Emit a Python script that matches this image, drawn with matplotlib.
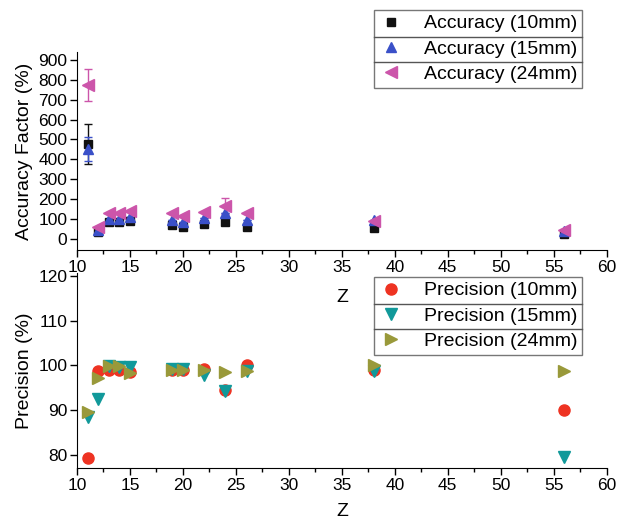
import numpy as np
import matplotlib.pyplot as plt
from matplotlib.lines import Line2D

plt.rcParams['font.family'] = ['Liberation Sans', 'DejaVu Sans']

z = [11, 12, 13, 14, 15, 19, 20, 22, 24, 26, 38, 56]

acc_10 = [475, 35, 86, 86, 92, 70, 62, 75, 85, 62, 55, 25]
acc_15 = [452, 45, 100, 100, 110, 95, 85, 105, 130, 95, 95, 40]
acc_24 = [775, 60, 130, 130, 140, 130, 115, 135, 165, 130, 90, 45]
acc_10_err = [100, 0, 0, 0, 0, 0, 0, 0, 0, 0, 0, 0]
acc_15_err = [60, 0, 0, 0, 0, 0, 0, 0, 0, 0, 0, 0]
acc_24_err = [80, 0, 0, 0, 0, 0, 0, 0, 40, 0, 0, 0]

prec_10 = [79.3, 98.8, 99.0, 99.0, 98.6, 99.0, 99.0, 99.3, 94.5, 100.0, 99.0, 90.0]
prec_15 = [88.5, 92.4, 99.9, 99.7, 99.7, 99.3, 99.3, 97.8, 94.3, 98.8, 98.8, 79.6]
prec_24 = [89.7, 97.1, 99.9, 99.9, 98.2, 99.0, 99.0, 99.0, 98.5, 98.8, 100.0, 98.8]

c_black = "#111111"
c_blue = "#3a50c8"
c_mag = "#cc55aa"
c_red = "#ee3322"
c_teal = "#11999a"
c_olive = "#99993a"

fig = plt.figure(figsize=(6.21, 5.23), dpi=100)
ax1 = fig.add_axes([0.124, 0.522, 0.853, 0.379])
ax2 = fig.add_axes([0.124, 0.105, 0.853, 0.373])


def style(ax, zpad):
    ax.spines["top"].set_visible(False)
    ax.spines["right"].set_visible(False)
    ax.set_xlim(10, 60)
    ax.set_xticks(range(10, 61, 5))
    ax.set_xticks(np.arange(12.5, 60, 5), minor=True)
    ax.tick_params(which="major", direction="out", length=5, width=1, labelsize=12.5, pad=2)
    ax.tick_params(which="minor", direction="out", length=3, width=1)
    ax.set_xlabel("Z", fontsize=14, labelpad=zpad)
    ax.patch.set_alpha(0)


style(ax1, 10)
style(ax2, 7)

ms = 7
ax1.errorbar(z, acc_10, yerr=acc_10_err, fmt="s", color=c_black, ms=ms - 1,
             capsize=3, elinewidth=1, label="Accuracy (10mm)")
ax1.errorbar(z, acc_15, yerr=acc_15_err, fmt="^", color=c_blue, ms=ms,
             capsize=3, elinewidth=1, label="Accuracy (15mm)")
ax1.errorbar(z, acc_24, yerr=acc_24_err, fmt="<", color=c_mag, ms=ms + 1,
             capsize=3, elinewidth=1, label="Accuracy (24mm)")
ax1.set_ylim(-55, 940)
ax1.set_yticks(range(0, 901, 100))
ax1.set_ylabel("Accuracy Factor (%)", fontsize=14, labelpad=4)

ax2.plot(z, prec_10, "o", color=c_red, ms=ms + 1, label="Precision (10mm)")
ax2.plot(z, prec_15, "v", color=c_teal, ms=ms + 1, label="Precision (15mm)")
ax2.plot(z, prec_24, ">", color=c_olive, ms=ms + 1, label="Precision (24mm)")
ax2.set_ylim(77.1, 120.6)
ax2.set_yticks(range(80, 121, 10))
ax2.set_ylabel("Precision (%)", fontsize=14, labelpad=4)


def boxed_legend(ax, handles, labels, bbox):
    leg = ax.legend(handles, labels, loc="upper left", bbox_to_anchor=bbox,
                    bbox_transform=fig.transFigure, fontsize=14, frameon=True,
                    fancybox=False, edgecolor="#555555", handlelength=1.2,
                    handletextpad=1.1, borderpad=0.25, labelspacing=0.4,
                    borderaxespad=0)
    leg.get_frame().set_linewidth(1)
    return leg


h1 = [Line2D([], [], ls="", marker="s", color=c_black, ms=6),
      Line2D([], [], ls="", marker="^", color=c_blue, ms=7),
      Line2D([], [], ls="", marker="<", color=c_mag, ms=8)]
l1 = ["Accuracy (10mm)", "Accuracy (15mm)", "Accuracy (24mm)"]
leg1 = boxed_legend(ax1, h1, l1, (374 / 621, 1 - 10 / 523))

h2 = [Line2D([], [], ls="", marker="o", color=c_red, ms=8),
      Line2D([], [], ls="", marker="v", color=c_teal, ms=8),
      Line2D([], [], ls="", marker=">", color=c_olive, ms=8)]
l2 = ["Precision (10mm)", "Precision (15mm)", "Precision (24mm)"]
leg2 = boxed_legend(ax2, h2, l2, (374 / 621, 1 - 277 / 523))

# row separators inside the legend boxes
fig.canvas.draw()
inv = fig.transFigure.inverted()
for leg in (leg1, leg2):
    fb = leg.get_frame().get_window_extent()
    texts = leg.get_texts()
    for a, b in zip(texts[:-1], texts[1:]):
        ya = a.get_window_extent().y0
        yb = b.get_window_extent().y1
        ymid = (ya + yb) / 2
        p0 = inv.transform((fb.x0, ymid))
        p1 = inv.transform((fb.x1, ymid))
        fig.add_artist(Line2D([p0[0], p1[0]], [p0[1], p1[1]],
                              color="#555555", lw=1))

fig.savefig("out.png", dpi=100)
